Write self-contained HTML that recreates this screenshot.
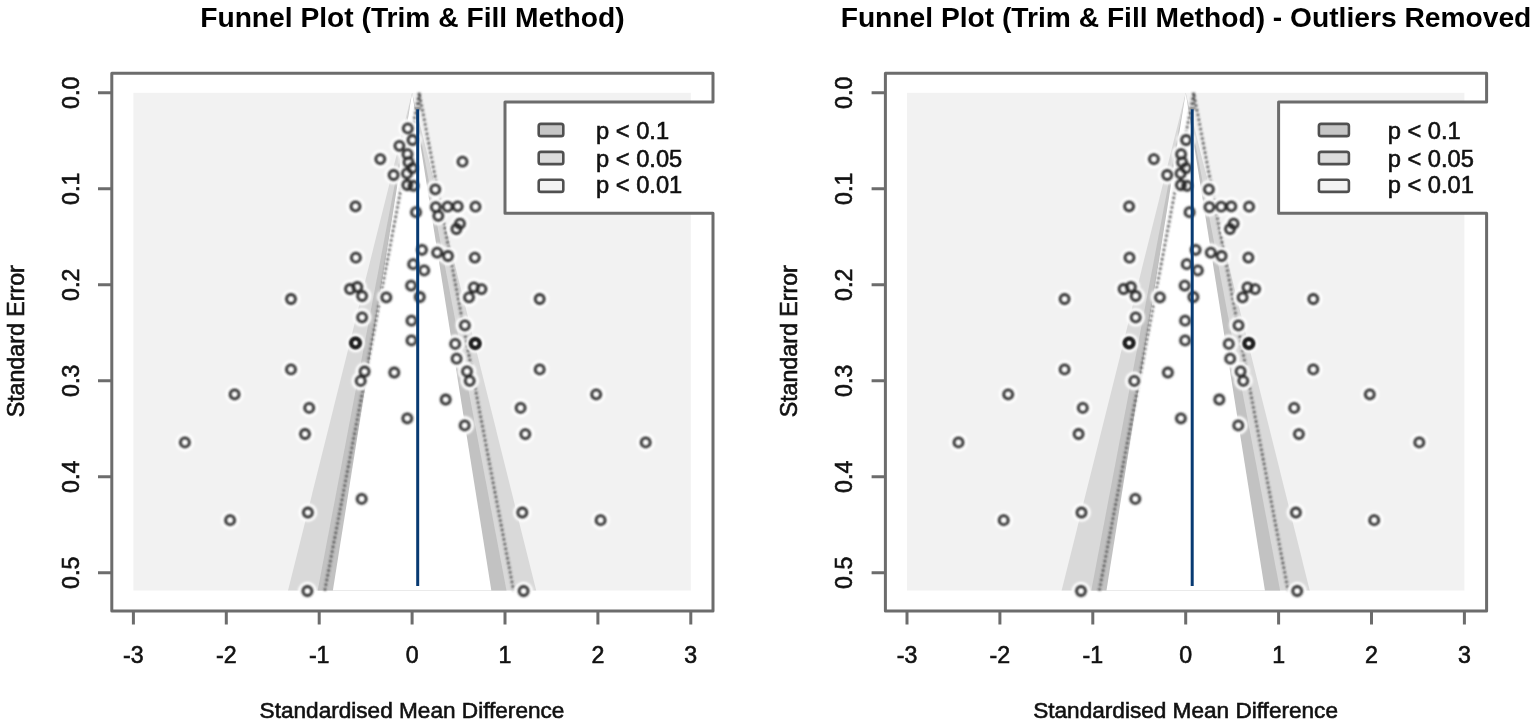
<!DOCTYPE html>
<html><head><meta charset="utf-8"><title>Funnel Plots</title>
<style>
html,body{margin:0;padding:0;background:#fff;}
body{width:1535px;height:724px;overflow:hidden;}
svg{display:block;}
.lab{font-family:"Liberation Sans",Arial,sans-serif;font-size:23.2px;fill:#111;stroke:#111;stroke-width:0.6px;}
.ttl{font-family:"Liberation Sans",Arial,sans-serif;font-size:28.2px;font-weight:bold;fill:#000;}
</style></head><body>
<svg width="1535" height="724" viewBox="0 0 1535 724">
<defs><filter id="b1" x="-50%" y="-50%" width="200%" height="200%"><feGaussianBlur stdDeviation="0.8"/></filter><filter id="b2" x="-50%" y="-50%" width="200%" height="200%"><feGaussianBlur stdDeviation="1.1"/></filter></defs>
<rect width="1535" height="724" fill="#fff"/>
<rect x="133.40" y="92.80" width="557.40" height="497.76" fill="#f2f2f2"/>
<polygon points="412.10,92.80 288.03,590.56 536.17,590.56" fill="#d9d9d9"/>
<polygon points="412.10,92.80 317.69,590.56 506.51,590.56" fill="#c2c2c2"/>
<polygon points="412.10,92.80 332.87,590.56 491.33,590.56" fill="#ffffff"/>
<g stroke="#383838" stroke-width="2.4" stroke-dasharray="2.4 2.4" fill="none" filter="url(#b1)"><polyline points="324.79,590.56 419.20,92.80 513.61,590.56"/><line x1="419.20" y1="92.80" x2="419.20" y2="110"/></g>
<g fill="#ffffff" filter="url(#b2)"><circle cx="407.8" cy="128.4" r="9.3"/><circle cx="412.5" cy="140.0" r="9.3"/><circle cx="399.4" cy="145.8" r="9.3"/><circle cx="380.3" cy="159.1" r="9.3"/><circle cx="407.5" cy="154.2" r="9.3"/><circle cx="408.5" cy="162.2" r="9.3"/><circle cx="412.4" cy="168.1" r="9.3"/><circle cx="407.0" cy="173.4" r="9.3"/><circle cx="393.6" cy="175.0" r="9.3"/><circle cx="407.3" cy="185.0" r="9.3"/><circle cx="413.5" cy="185.8" r="9.3"/><circle cx="462.5" cy="161.7" r="9.3"/><circle cx="435.3" cy="189.3" r="9.3"/><circle cx="435.8" cy="207.1" r="9.3"/><circle cx="438.3" cy="215.8" r="9.3"/><circle cx="447.6" cy="206.7" r="9.3"/><circle cx="457.7" cy="206.3" r="9.3"/><circle cx="475.5" cy="206.7" r="9.3"/><circle cx="456.4" cy="229.0" r="9.3"/><circle cx="460.0" cy="223.6" r="9.3"/><circle cx="355.5" cy="206.3" r="9.3"/><circle cx="416.0" cy="212.2" r="9.3"/><circle cx="355.9" cy="257.7" r="9.3"/><circle cx="422.0" cy="249.8" r="9.3"/><circle cx="437.2" cy="252.6" r="9.3"/><circle cx="448.0" cy="256.0" r="9.3"/><circle cx="474.8" cy="257.6" r="9.3"/><circle cx="413.2" cy="264.2" r="9.3"/><circle cx="424.2" cy="270.4" r="9.3"/><circle cx="411.1" cy="285.6" r="9.3"/><circle cx="419.8" cy="297.0" r="9.3"/><circle cx="350.0" cy="289.0" r="9.3"/><circle cx="357.3" cy="287.0" r="9.3"/><circle cx="362.1" cy="296.0" r="9.3"/><circle cx="386.3" cy="297.3" r="9.3"/><circle cx="473.9" cy="287.3" r="9.3"/><circle cx="481.5" cy="289.1" r="9.3"/><circle cx="469.0" cy="297.3" r="9.3"/><circle cx="464.9" cy="325.3" r="9.3"/><circle cx="362.1" cy="317.3" r="9.3"/><circle cx="411.5" cy="320.7" r="9.3"/><circle cx="355.5" cy="342.9" r="9.3"/><circle cx="411.5" cy="340.4" r="9.3"/><circle cx="364.6" cy="371.5" r="9.3"/><circle cx="360.7" cy="380.9" r="9.3"/><circle cx="394.3" cy="372.5" r="9.3"/><circle cx="455.2" cy="343.9" r="9.3"/><circle cx="475.2" cy="343.5" r="9.3"/><circle cx="456.6" cy="358.7" r="9.3"/><circle cx="467.0" cy="371.4" r="9.3"/><circle cx="469.7" cy="380.8" r="9.3"/><circle cx="445.7" cy="399.5" r="9.3"/><circle cx="407.3" cy="418.3" r="9.3"/><circle cx="464.7" cy="425.4" r="9.3"/><circle cx="361.7" cy="498.9" r="9.3"/><circle cx="291.0" cy="299.0" r="9.3"/><circle cx="291.0" cy="369.4" r="9.3"/><circle cx="234.6" cy="394.3" r="9.3"/><circle cx="309.2" cy="407.9" r="9.3"/><circle cx="305.0" cy="434.0" r="9.3"/><circle cx="184.9" cy="442.4" r="9.3"/><circle cx="230.1" cy="520.2" r="9.3"/><circle cx="307.9" cy="512.5" r="9.3"/><circle cx="307.4" cy="591.0" r="9.3"/><circle cx="539.7" cy="299.0" r="9.3"/><circle cx="539.7" cy="369.4" r="9.3"/><circle cx="596.2" cy="394.3" r="9.3"/><circle cx="520.6" cy="407.9" r="9.3"/><circle cx="525.3" cy="434.1" r="9.3"/><circle cx="645.7" cy="442.4" r="9.3"/><circle cx="522.3" cy="512.5" r="9.3"/><circle cx="600.6" cy="520.2" r="9.3"/><circle cx="523.6" cy="591.0" r="9.3"/></g>
<g fill="none" stroke="#262626" stroke-width="2.8" filter="url(#b1)"><circle cx="407.8" cy="128.4" r="4.5"/><circle cx="412.5" cy="140.0" r="4.5"/><circle cx="399.4" cy="145.8" r="4.5"/><circle cx="380.3" cy="159.1" r="4.5"/><circle cx="407.5" cy="154.2" r="4.5"/><circle cx="408.5" cy="162.2" r="4.5"/><circle cx="412.4" cy="168.1" r="4.5"/><circle cx="407.0" cy="173.4" r="4.5"/><circle cx="393.6" cy="175.0" r="4.5"/><circle cx="407.3" cy="185.0" r="4.5"/><circle cx="413.5" cy="185.8" r="4.5"/><circle cx="462.5" cy="161.7" r="4.5"/><circle cx="435.3" cy="189.3" r="4.5"/><circle cx="435.8" cy="207.1" r="4.5"/><circle cx="438.3" cy="215.8" r="4.5"/><circle cx="447.6" cy="206.7" r="4.5"/><circle cx="457.7" cy="206.3" r="4.5"/><circle cx="475.5" cy="206.7" r="4.5"/><circle cx="456.4" cy="229.0" r="4.5"/><circle cx="460.0" cy="223.6" r="4.5"/><circle cx="355.5" cy="206.3" r="4.5"/><circle cx="416.0" cy="212.2" r="4.5"/><circle cx="355.9" cy="257.7" r="4.5"/><circle cx="422.0" cy="249.8" r="4.5"/><circle cx="437.2" cy="252.6" r="4.5"/><circle cx="448.0" cy="256.0" r="4.5"/><circle cx="474.8" cy="257.6" r="4.5"/><circle cx="413.2" cy="264.2" r="4.5"/><circle cx="424.2" cy="270.4" r="4.5"/><circle cx="411.1" cy="285.6" r="4.5"/><circle cx="419.8" cy="297.0" r="4.5"/><circle cx="350.0" cy="289.0" r="4.5"/><circle cx="357.3" cy="287.0" r="4.5"/><circle cx="362.1" cy="296.0" r="4.5"/><circle cx="386.3" cy="297.3" r="4.5"/><circle cx="473.9" cy="287.3" r="4.5"/><circle cx="481.5" cy="289.1" r="4.5"/><circle cx="469.0" cy="297.3" r="4.5"/><circle cx="464.9" cy="325.3" r="4.5"/><circle cx="362.1" cy="317.3" r="4.5"/><circle cx="411.5" cy="320.7" r="4.5"/><circle cx="355.5" cy="342.9" r="4.5"/><circle cx="411.5" cy="340.4" r="4.5"/><circle cx="364.6" cy="371.5" r="4.5"/><circle cx="360.7" cy="380.9" r="4.5"/><circle cx="394.3" cy="372.5" r="4.5"/><circle cx="455.2" cy="343.9" r="4.5"/><circle cx="475.2" cy="343.5" r="4.5"/><circle cx="456.6" cy="358.7" r="4.5"/><circle cx="467.0" cy="371.4" r="4.5"/><circle cx="469.7" cy="380.8" r="4.5"/><circle cx="445.7" cy="399.5" r="4.5"/><circle cx="407.3" cy="418.3" r="4.5"/><circle cx="464.7" cy="425.4" r="4.5"/><circle cx="361.7" cy="498.9" r="4.5"/><circle cx="291.0" cy="299.0" r="4.5"/><circle cx="291.0" cy="369.4" r="4.5"/><circle cx="234.6" cy="394.3" r="4.5"/><circle cx="309.2" cy="407.9" r="4.5"/><circle cx="305.0" cy="434.0" r="4.5"/><circle cx="184.9" cy="442.4" r="4.5"/><circle cx="230.1" cy="520.2" r="4.5"/><circle cx="307.9" cy="512.5" r="4.5"/><circle cx="307.4" cy="591.0" r="4.5"/><circle cx="539.7" cy="299.0" r="4.5"/><circle cx="539.7" cy="369.4" r="4.5"/><circle cx="596.2" cy="394.3" r="4.5"/><circle cx="520.6" cy="407.9" r="4.5"/><circle cx="525.3" cy="434.1" r="4.5"/><circle cx="645.7" cy="442.4" r="4.5"/><circle cx="522.3" cy="512.5" r="4.5"/><circle cx="600.6" cy="520.2" r="4.5"/><circle cx="523.6" cy="591.0" r="4.5"/></g>
<g fill="none" stroke="#0a0a0a" stroke-width="3.0" filter="url(#b1)"><circle cx="355.5" cy="342.9" r="4.5"/><circle cx="475.2" cy="343.5" r="4.5"/></g>
<line x1="417.70" y1="109.2" x2="417.70" y2="586" stroke="#073a72" stroke-width="3"/>
<rect x="505.0" y="102.0" width="214.0" height="111.30000000000001" fill="#fff"/>
<path d="M111.8,73.3 H713.0 V102.0 H505.0 V213.3 H713.0 V611.0 H111.8 Z" fill="none" stroke="#6c6c6c" stroke-width="3" stroke-linejoin="round"/>
<rect x="538.7" y="123.9" width="24.6" height="12.2" rx="2.2" fill="#c6c6c6" stroke="#505050" stroke-width="2.6"/>
<rect x="538.7" y="151.9" width="24.6" height="12.2" rx="2.2" fill="#dcdcdc" stroke="#505050" stroke-width="2.6"/>
<rect x="538.7" y="179.7" width="24.6" height="12.2" rx="2.2" fill="#f3f3f3" stroke="#505050" stroke-width="2.6"/>
<text x="596.0" y="139.4" class="lab" style="font-size:23.7px">p &lt; 0.1</text>
<text x="596.0" y="167.0" class="lab" style="font-size:23.7px">p &lt; 0.05</text>
<text x="596.0" y="193.4" class="lab" style="font-size:23.7px">p &lt; 0.01</text>
<path d="M133.40,611.0 V624.5 M226.30,611.0 V624.5 M319.20,611.0 V624.5 M412.10,611.0 V624.5 M505.00,611.0 V624.5 M597.90,611.0 V624.5 M690.80,611.0 V624.5 M111.8,92.80 H98.0 M111.8,188.80 H98.0 M111.8,284.80 H98.0 M111.8,380.80 H98.0 M111.8,476.80 H98.0 M111.8,572.80 H98.0" stroke="#6c6c6c" stroke-width="3" fill="none"/>
<text x="133.40" y="663" class="lab" text-anchor="middle">-3</text>
<text x="226.30" y="663" class="lab" text-anchor="middle">-2</text>
<text x="319.20" y="663" class="lab" text-anchor="middle">-1</text>
<text x="412.10" y="663" class="lab" text-anchor="middle">0</text>
<text x="505.00" y="663" class="lab" text-anchor="middle">1</text>
<text x="597.90" y="663" class="lab" text-anchor="middle">2</text>
<text x="690.80" y="663" class="lab" text-anchor="middle">3</text>
<text transform="translate(78.6,92.80) rotate(-90)" class="lab" text-anchor="middle">0.0</text>
<text transform="translate(78.6,188.80) rotate(-90)" class="lab" text-anchor="middle">0.1</text>
<text transform="translate(78.6,284.80) rotate(-90)" class="lab" text-anchor="middle">0.2</text>
<text transform="translate(78.6,380.80) rotate(-90)" class="lab" text-anchor="middle">0.3</text>
<text transform="translate(78.6,476.80) rotate(-90)" class="lab" text-anchor="middle">0.4</text>
<text transform="translate(78.6,572.80) rotate(-90)" class="lab" text-anchor="middle">0.5</text>
<text x="412.0" y="718" class="lab" text-anchor="middle" style="font-size:22.6px">Standardised Mean Difference</text>
<text transform="translate(23.6,341.3) rotate(-90)" class="lab" text-anchor="middle">Standard Error</text>
<text x="412.4" y="26.6" class="ttl" text-anchor="middle">Funnel Plot (Trim &amp; Fill Method)</text>
<rect x="907.00" y="92.80" width="557.40" height="497.76" fill="#f2f2f2"/>
<polygon points="1185.70,92.80 1061.63,590.56 1309.77,590.56" fill="#d9d9d9"/>
<polygon points="1185.70,92.80 1091.29,590.56 1280.11,590.56" fill="#c2c2c2"/>
<polygon points="1185.70,92.80 1106.47,590.56 1264.93,590.56" fill="#ffffff"/>
<g stroke="#383838" stroke-width="2.4" stroke-dasharray="2.4 2.4" fill="none" filter="url(#b1)"><polyline points="1099.29,590.56 1193.70,92.80 1288.11,590.56"/><line x1="1193.70" y1="92.80" x2="1193.70" y2="110"/></g>
<g fill="#ffffff" filter="url(#b2)"><circle cx="1186.1" cy="140.0" r="9.3"/><circle cx="1153.9" cy="159.1" r="9.3"/><circle cx="1181.1" cy="154.2" r="9.3"/><circle cx="1182.1" cy="162.2" r="9.3"/><circle cx="1186.0" cy="168.1" r="9.3"/><circle cx="1180.6" cy="173.4" r="9.3"/><circle cx="1167.2" cy="175.0" r="9.3"/><circle cx="1180.9" cy="185.0" r="9.3"/><circle cx="1187.1" cy="185.8" r="9.3"/><circle cx="1208.9" cy="189.3" r="9.3"/><circle cx="1209.4" cy="207.1" r="9.3"/><circle cx="1221.2" cy="206.7" r="9.3"/><circle cx="1231.3" cy="206.3" r="9.3"/><circle cx="1249.1" cy="206.7" r="9.3"/><circle cx="1230.0" cy="229.0" r="9.3"/><circle cx="1233.6" cy="223.6" r="9.3"/><circle cx="1129.1" cy="206.3" r="9.3"/><circle cx="1189.6" cy="212.2" r="9.3"/><circle cx="1129.5" cy="257.7" r="9.3"/><circle cx="1195.6" cy="249.8" r="9.3"/><circle cx="1210.8" cy="252.6" r="9.3"/><circle cx="1221.6" cy="256.0" r="9.3"/><circle cx="1248.4" cy="257.6" r="9.3"/><circle cx="1186.8" cy="264.2" r="9.3"/><circle cx="1197.8" cy="270.4" r="9.3"/><circle cx="1184.7" cy="285.6" r="9.3"/><circle cx="1193.4" cy="297.0" r="9.3"/><circle cx="1123.6" cy="289.0" r="9.3"/><circle cx="1130.9" cy="287.0" r="9.3"/><circle cx="1135.7" cy="296.0" r="9.3"/><circle cx="1159.9" cy="297.3" r="9.3"/><circle cx="1247.5" cy="287.3" r="9.3"/><circle cx="1255.1" cy="289.1" r="9.3"/><circle cx="1242.6" cy="297.3" r="9.3"/><circle cx="1238.5" cy="325.3" r="9.3"/><circle cx="1135.7" cy="317.3" r="9.3"/><circle cx="1185.1" cy="320.7" r="9.3"/><circle cx="1129.1" cy="342.9" r="9.3"/><circle cx="1185.1" cy="340.4" r="9.3"/><circle cx="1134.3" cy="380.9" r="9.3"/><circle cx="1167.9" cy="372.5" r="9.3"/><circle cx="1228.8" cy="343.9" r="9.3"/><circle cx="1248.8" cy="343.5" r="9.3"/><circle cx="1230.2" cy="358.7" r="9.3"/><circle cx="1240.6" cy="371.4" r="9.3"/><circle cx="1243.3" cy="380.8" r="9.3"/><circle cx="1219.3" cy="399.5" r="9.3"/><circle cx="1180.9" cy="418.3" r="9.3"/><circle cx="1238.3" cy="425.4" r="9.3"/><circle cx="1135.3" cy="498.9" r="9.3"/><circle cx="1064.6" cy="299.0" r="9.3"/><circle cx="1064.6" cy="369.4" r="9.3"/><circle cx="1008.2" cy="394.3" r="9.3"/><circle cx="1082.8" cy="407.9" r="9.3"/><circle cx="1078.6" cy="434.0" r="9.3"/><circle cx="958.5" cy="442.4" r="9.3"/><circle cx="1003.7" cy="520.2" r="9.3"/><circle cx="1081.5" cy="512.5" r="9.3"/><circle cx="1081.0" cy="591.0" r="9.3"/><circle cx="1313.3" cy="299.0" r="9.3"/><circle cx="1313.3" cy="369.4" r="9.3"/><circle cx="1369.8" cy="394.3" r="9.3"/><circle cx="1294.2" cy="407.9" r="9.3"/><circle cx="1298.9" cy="434.1" r="9.3"/><circle cx="1419.3" cy="442.4" r="9.3"/><circle cx="1295.9" cy="512.5" r="9.3"/><circle cx="1374.2" cy="520.2" r="9.3"/><circle cx="1297.2" cy="591.0" r="9.3"/></g>
<g fill="none" stroke="#262626" stroke-width="2.8" filter="url(#b1)"><circle cx="1186.1" cy="140.0" r="4.5"/><circle cx="1153.9" cy="159.1" r="4.5"/><circle cx="1181.1" cy="154.2" r="4.5"/><circle cx="1182.1" cy="162.2" r="4.5"/><circle cx="1186.0" cy="168.1" r="4.5"/><circle cx="1180.6" cy="173.4" r="4.5"/><circle cx="1167.2" cy="175.0" r="4.5"/><circle cx="1180.9" cy="185.0" r="4.5"/><circle cx="1187.1" cy="185.8" r="4.5"/><circle cx="1208.9" cy="189.3" r="4.5"/><circle cx="1209.4" cy="207.1" r="4.5"/><circle cx="1221.2" cy="206.7" r="4.5"/><circle cx="1231.3" cy="206.3" r="4.5"/><circle cx="1249.1" cy="206.7" r="4.5"/><circle cx="1230.0" cy="229.0" r="4.5"/><circle cx="1233.6" cy="223.6" r="4.5"/><circle cx="1129.1" cy="206.3" r="4.5"/><circle cx="1189.6" cy="212.2" r="4.5"/><circle cx="1129.5" cy="257.7" r="4.5"/><circle cx="1195.6" cy="249.8" r="4.5"/><circle cx="1210.8" cy="252.6" r="4.5"/><circle cx="1221.6" cy="256.0" r="4.5"/><circle cx="1248.4" cy="257.6" r="4.5"/><circle cx="1186.8" cy="264.2" r="4.5"/><circle cx="1197.8" cy="270.4" r="4.5"/><circle cx="1184.7" cy="285.6" r="4.5"/><circle cx="1193.4" cy="297.0" r="4.5"/><circle cx="1123.6" cy="289.0" r="4.5"/><circle cx="1130.9" cy="287.0" r="4.5"/><circle cx="1135.7" cy="296.0" r="4.5"/><circle cx="1159.9" cy="297.3" r="4.5"/><circle cx="1247.5" cy="287.3" r="4.5"/><circle cx="1255.1" cy="289.1" r="4.5"/><circle cx="1242.6" cy="297.3" r="4.5"/><circle cx="1238.5" cy="325.3" r="4.5"/><circle cx="1135.7" cy="317.3" r="4.5"/><circle cx="1185.1" cy="320.7" r="4.5"/><circle cx="1129.1" cy="342.9" r="4.5"/><circle cx="1185.1" cy="340.4" r="4.5"/><circle cx="1134.3" cy="380.9" r="4.5"/><circle cx="1167.9" cy="372.5" r="4.5"/><circle cx="1228.8" cy="343.9" r="4.5"/><circle cx="1248.8" cy="343.5" r="4.5"/><circle cx="1230.2" cy="358.7" r="4.5"/><circle cx="1240.6" cy="371.4" r="4.5"/><circle cx="1243.3" cy="380.8" r="4.5"/><circle cx="1219.3" cy="399.5" r="4.5"/><circle cx="1180.9" cy="418.3" r="4.5"/><circle cx="1238.3" cy="425.4" r="4.5"/><circle cx="1135.3" cy="498.9" r="4.5"/><circle cx="1064.6" cy="299.0" r="4.5"/><circle cx="1064.6" cy="369.4" r="4.5"/><circle cx="1008.2" cy="394.3" r="4.5"/><circle cx="1082.8" cy="407.9" r="4.5"/><circle cx="1078.6" cy="434.0" r="4.5"/><circle cx="958.5" cy="442.4" r="4.5"/><circle cx="1003.7" cy="520.2" r="4.5"/><circle cx="1081.5" cy="512.5" r="4.5"/><circle cx="1081.0" cy="591.0" r="4.5"/><circle cx="1313.3" cy="299.0" r="4.5"/><circle cx="1313.3" cy="369.4" r="4.5"/><circle cx="1369.8" cy="394.3" r="4.5"/><circle cx="1294.2" cy="407.9" r="4.5"/><circle cx="1298.9" cy="434.1" r="4.5"/><circle cx="1419.3" cy="442.4" r="4.5"/><circle cx="1295.9" cy="512.5" r="4.5"/><circle cx="1374.2" cy="520.2" r="4.5"/><circle cx="1297.2" cy="591.0" r="4.5"/></g>
<g fill="none" stroke="#0a0a0a" stroke-width="3.0" filter="url(#b1)"><circle cx="1129.1" cy="342.9" r="4.5"/><circle cx="1248.8" cy="343.5" r="4.5"/></g>
<line x1="1192.20" y1="109.2" x2="1192.20" y2="586" stroke="#073a72" stroke-width="3"/>
<rect x="1278.6" y="102.0" width="214.0" height="111.30000000000001" fill="#fff"/>
<path d="M885.4,73.3 H1486.6 V102.0 H1278.6 V213.3 H1486.6 V611.0 H885.4 Z" fill="none" stroke="#6c6c6c" stroke-width="3" stroke-linejoin="round"/>
<rect x="1318.9" y="123.9" width="30.0" height="12.2" rx="2.2" fill="#c6c6c6" stroke="#505050" stroke-width="2.6"/>
<rect x="1318.9" y="151.9" width="30.0" height="12.2" rx="2.2" fill="#dcdcdc" stroke="#505050" stroke-width="2.6"/>
<rect x="1318.9" y="179.7" width="30.0" height="12.2" rx="2.2" fill="#f3f3f3" stroke="#505050" stroke-width="2.6"/>
<text x="1387.7" y="139.4" class="lab" style="font-size:23.7px">p &lt; 0.1</text>
<text x="1387.7" y="167.0" class="lab" style="font-size:23.7px">p &lt; 0.05</text>
<text x="1387.7" y="193.4" class="lab" style="font-size:23.7px">p &lt; 0.01</text>
<path d="M907.00,611.0 V624.5 M999.90,611.0 V624.5 M1092.80,611.0 V624.5 M1185.70,611.0 V624.5 M1278.60,611.0 V624.5 M1371.50,611.0 V624.5 M1464.40,611.0 V624.5 M885.4,92.80 H871.6 M885.4,188.80 H871.6 M885.4,284.80 H871.6 M885.4,380.80 H871.6 M885.4,476.80 H871.6 M885.4,572.80 H871.6" stroke="#6c6c6c" stroke-width="3" fill="none"/>
<text x="907.00" y="663" class="lab" text-anchor="middle">-3</text>
<text x="999.90" y="663" class="lab" text-anchor="middle">-2</text>
<text x="1092.80" y="663" class="lab" text-anchor="middle">-1</text>
<text x="1185.70" y="663" class="lab" text-anchor="middle">0</text>
<text x="1278.60" y="663" class="lab" text-anchor="middle">1</text>
<text x="1371.50" y="663" class="lab" text-anchor="middle">2</text>
<text x="1464.40" y="663" class="lab" text-anchor="middle">3</text>
<text transform="translate(852.2,92.80) rotate(-90)" class="lab" text-anchor="middle">0.0</text>
<text transform="translate(852.2,188.80) rotate(-90)" class="lab" text-anchor="middle">0.1</text>
<text transform="translate(852.2,284.80) rotate(-90)" class="lab" text-anchor="middle">0.2</text>
<text transform="translate(852.2,380.80) rotate(-90)" class="lab" text-anchor="middle">0.3</text>
<text transform="translate(852.2,476.80) rotate(-90)" class="lab" text-anchor="middle">0.4</text>
<text transform="translate(852.2,572.80) rotate(-90)" class="lab" text-anchor="middle">0.5</text>
<text x="1185.6" y="718" class="lab" text-anchor="middle" style="font-size:22.6px">Standardised Mean Difference</text>
<text transform="translate(797.2,341.3) rotate(-90)" class="lab" text-anchor="middle">Standard Error</text>
<text x="1186.0" y="26.6" class="ttl" text-anchor="middle">Funnel Plot (Trim &amp; Fill Method) - Outliers Removed</text>
</svg>
</body></html>
